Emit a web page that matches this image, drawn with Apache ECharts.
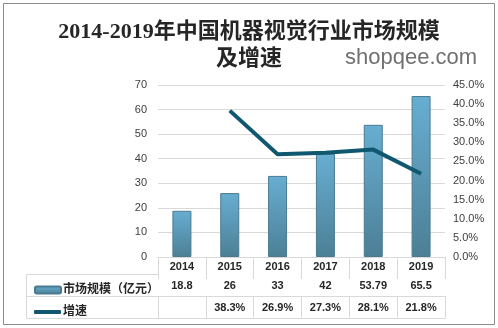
<!DOCTYPE html>
<html><head><meta charset="utf-8">
<script src="https://cdn.jsdelivr.net/npm/echarts@6/dist/echarts.min.js"></script>
<style>html,body{margin:0;padding:0;background:#fff}#c{width:498px;height:328px}</style>
</head><body><div id="c"></div>
<script>
var years = ['2014','2015','2016','2017','2018','2019'];
var marketSize = [18.8, 26, 33, 42, 53.79, 65.5];
var growth = [null, 38.3, 26.9, 27.3, 28.1, 21.8];
var sizeLabels = ['18.8','26','33','42','53.79','65.5'];
var growthLabels = ['', '38.3%', '26.9%', '27.3%', '28.1%', '21.8%'];
var leftTicks = [0, 70, 10];
var rightTicks = [0, 45, 5];
var seriesNames = ['市场规模（亿元）', '增速'];

var chart = echarts.init(document.getElementById('c'));
var F = "'Liberation Sans', 'Noto Sans CJK SC', sans-serif";
var gridColor = '#d9d9d9';
var tableColor = '#d9d9d9';
function tableAxis(data, offset, tickLen, margin) {
  return {
    type: 'category', data: data, position: 'bottom', offset: offset, gridIndex: 0,
    axisLine: {show: true, lineStyle: {color: tableColor}},
    axisTick: {show: true, length: tickLen, interval: 0, lineStyle: {color: tableColor}},
    axisLabel: {interval: 0, margin: margin, fontSize: 11, fontWeight: 'bold', color: '#262626', fontFamily: F},
    splitLine: {show: false}
  };
}
var option = {
  animation: false,
  title: {
    text: '2014-2019年中国机器视觉行业市场规模\n及增速',
    left: 'center', top: 14,
    textStyle: {fontFamily: "'Liberation Serif', 'Noto Sans CJK SC', serif", fontSize: 22, fontWeight: 'bold', color: '#262626', lineHeight: 27}
  },
  legend: [
    {data: [seriesNames[0]], left: 29, top: 279, itemWidth: 26, itemHeight: 7, itemGap: 4,
     textStyle: {fontFamily: F, fontSize: 12, fontWeight: 'bold', color: '#262626', padding: [0,0,0,-3]}},
    {data: [{name: seriesNames[1], icon: 'roundRect'}], left: 29, top: 301, itemWidth: 27, itemHeight: 4,
     itemStyle: {color: '#0f5870'},
     textStyle: {fontFamily: F, fontSize: 12, fontWeight: 'bold', color: '#262626', padding: [0,0,0,-3]}}
  ],
  grid: {left: 158, right: 53, top: 85, bottom: 71},
  xAxis: [
    tableAxis(years, 0, 18, 4),
    tableAxis(sizeLabels, 17, 22, 6),
    tableAxis(growthLabels, 39, 22, 6),
    {type: 'category', data: years, position: 'bottom', offset: 61,
     axisLine: {show: true, lineStyle: {color: tableColor}}, axisTick: {show: false}, axisLabel: {show: false}}
  ],
  yAxis: [
    {type: 'value', min: leftTicks[0], max: leftTicks[1], interval: leftTicks[2],
     axisLine: {show: false}, axisTick: {show: false},
     axisLabel: {margin: 11, fontSize: 11, color: '#404040', fontFamily: F},
     splitLine: {lineStyle: {color: gridColor}}},
    {type: 'value', min: rightTicks[0], max: rightTicks[1], interval: rightTicks[2], position: 'right',
     axisLine: {show: false}, axisTick: {show: false},
     axisLabel: {margin: 8, fontSize: 11, color: '#404040', fontFamily: F, formatter: function(v){return v.toFixed(1)+'%';}},
     splitLine: {show: false}}
  ],
  series: [
    {name: seriesNames[0], type: 'bar', data: marketSize, barWidth: 19, xAxisIndex: 0, yAxisIndex: 0,
     itemStyle: {color: new echarts.graphic.LinearGradient(0,0,0,1,[{offset:0,color:'#67aed2'},{offset:1,color:'#4c7f95'}]),
       borderColor: '#4a7a90', borderWidth: 1}},
    {name: seriesNames[1], type: 'line', data: growth, xAxisIndex: 0, yAxisIndex: 1, symbol: 'none',
     lineStyle: {color: '#0f5870', width: 4}, itemStyle: {color: '#0f5870'}}
  ],
  graphic: [
    {type: 'rect', shape: {x: 3.5, y: 3.5, width: 491, height: 321}, style: {fill: 'none', stroke: '#8c8c8c', lineWidth: 1}, silent: true},
    {type: 'text', left: 345, top: 47, style: {text: 'shopqee.com', font: "22px 'Liberation Sans', sans-serif", fill: '#707070'}},
    {type: 'line', shape: {x1: 26.5, y1: 274.5, x2: 158, y2: 274.5}, style: {stroke: tableColor, lineWidth: 1}},
    {type: 'line', shape: {x1: 26.5, y1: 296.5, x2: 158, y2: 296.5}, style: {stroke: tableColor, lineWidth: 1}},
    {type: 'line', shape: {x1: 26.5, y1: 318.5, x2: 158, y2: 318.5}, style: {stroke: tableColor, lineWidth: 1}},
    {type: 'line', shape: {x1: 26.5, y1: 274.5, x2: 26.5, y2: 318.5}, style: {stroke: tableColor, lineWidth: 1}}
  ]
};
chart.setOption(option);
</script></body></html>
